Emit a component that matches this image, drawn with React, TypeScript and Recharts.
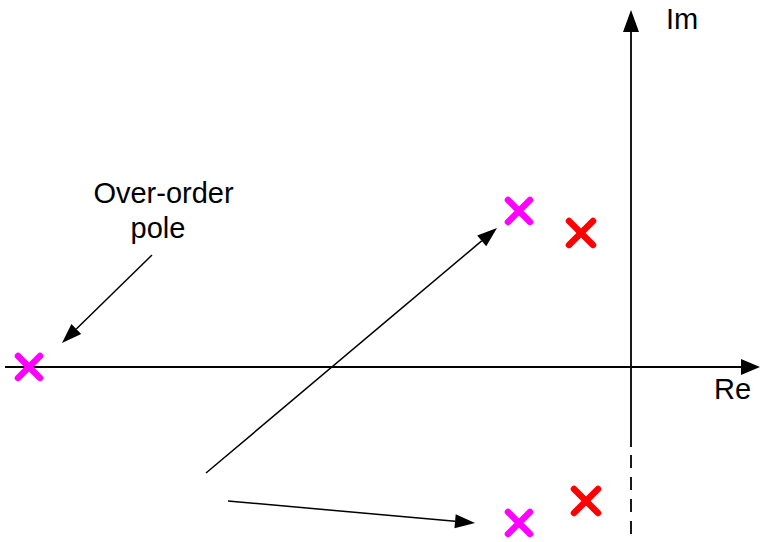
import { ScatterChart, Scatter, XAxis, YAxis, ReferenceLine } from "recharts"

// complex plane units: 1 unit = 100px, origin at the axes crossing
const extraPoles = [{ re: -6.02, im: 0 }, { re: -1.12, im: 1.56 }, { re: -1.12, im: -1.56 }]
const poles = [{ re: -0.5, im: 1.34 }, { re: -0.45, im: -1.34 }]

const arrows = [
  { from: { re: -4.79, im: 1.12 }, to: { re: -5.69, im: 0.24 } },
  { from: { re: -4.25, im: -1.06 }, to: { re: -1.34, im: 1.39 } },
  { from: { re: -4.03, im: -1.34 }, to: { re: -1.56, im: -1.56 } },
]

const labels = [
  { re: -4.675, im: 1.64, text: "Over-order", anchor: "middle" },
  { re: -4.73, im: 1.29, text: "pole", anchor: "middle" },
  { re: 0.35, im: 3.38, text: "Im", anchor: "start" },
  { re: 0.83, im: -0.32, text: "Re", anchor: "start" },
]

const reAxis = { from: -6.26, to: 1.29 }
const imAxis = { top: 3.57, solidEnd: -0.8, dashStart: -0.88, bottom: -1.75 }

function arrowShape(len: number, half: number, width: number) {
  return (p: any) => {
    const { x1, y1, x2, y2 } = p
    const dx = x2 - x1
    const dy = y2 - y1
    const d = Math.sqrt(dx * dx + dy * dy)
    const ux = dx / d
    const uy = dy / d
    const bx = x2 - ux * len
    const by = y2 - uy * len
    const pts = `${x2},${y2} ${bx - uy * half},${by + ux * half} ${bx + uy * half},${by - ux * half}`
    return (
      <g>
        <line x1={x1} y1={y1} x2={bx} y2={by} stroke="#000" strokeWidth={width} />
        <polygon points={pts} fill="#000" />
      </g>
    )
  }
}

function cross(color: string, r: number) {
  return (p: any) => {
    const { cx, cy } = p
    return (
      <g stroke={color} strokeWidth={6.5} strokeLinecap="round">
        <line x1={cx - r} y1={cy - r} x2={cx + r} y2={cy + r} />
        <line x1={cx - r} y1={cy + r} x2={cx + r} y2={cy - r} />
      </g>
    )
  }
}

const labelShape = (p: any) => (
  <text
    x={p.cx}
    y={p.cy}
    textAnchor={p.payload.anchor}
    fontFamily="Liberation Sans, Arial, sans-serif"
    fontSize={29}
    fill="#000"
  >
    {p.payload.text}
  </text>
)

export default function App() {
  return (
    <div style={{ position: "absolute", left: 0, top: 0, background: "#fff" }}>
      <ScatterChart width={761} height={542} margin={{ top: 0, right: 0, bottom: 0, left: 0 }}>
        <XAxis type="number" dataKey="re" domain={[-6.31, 1.3]} hide allowDataOverflow />
        <YAxis type="number" dataKey="im" domain={[-1.75, 3.67]} hide allowDataOverflow />
        <ReferenceLine
          segment={[{ x: reAxis.from, y: 0 }, { x: reAxis.to, y: 0 }]}
          ifOverflow="visible"
          shape={arrowShape(19, 8, 1.8)}
        />
        <ReferenceLine
          segment={[{ x: 0, y: imAxis.solidEnd }, { x: 0, y: imAxis.top }]}
          ifOverflow="visible"
          shape={arrowShape(22, 8, 1.8)}
        />
        <ReferenceLine
          segment={[{ x: 0, y: imAxis.dashStart }, { x: 0, y: imAxis.bottom }]}
          ifOverflow="visible"
          stroke="#000"
          strokeWidth={1.8}
          strokeDasharray="13 9"
        />
        {arrows.map((a, i) => (
          <ReferenceLine
            key={i}
            segment={[{ x: a.from.re, y: a.from.im }, { x: a.to.re, y: a.to.im }]}
            ifOverflow="visible"
            shape={arrowShape(20, 7, 1.5)}
          />
        ))}
        <Scatter data={extraPoles} shape={cross("#FF00FF", 11)} isAnimationActive={false} />
        <Scatter data={poles} shape={cross("#FF0000", 12)} isAnimationActive={false} />
        <Scatter data={labels} shape={labelShape} isAnimationActive={false} />
      </ScatterChart>
    </div>
  )
}
